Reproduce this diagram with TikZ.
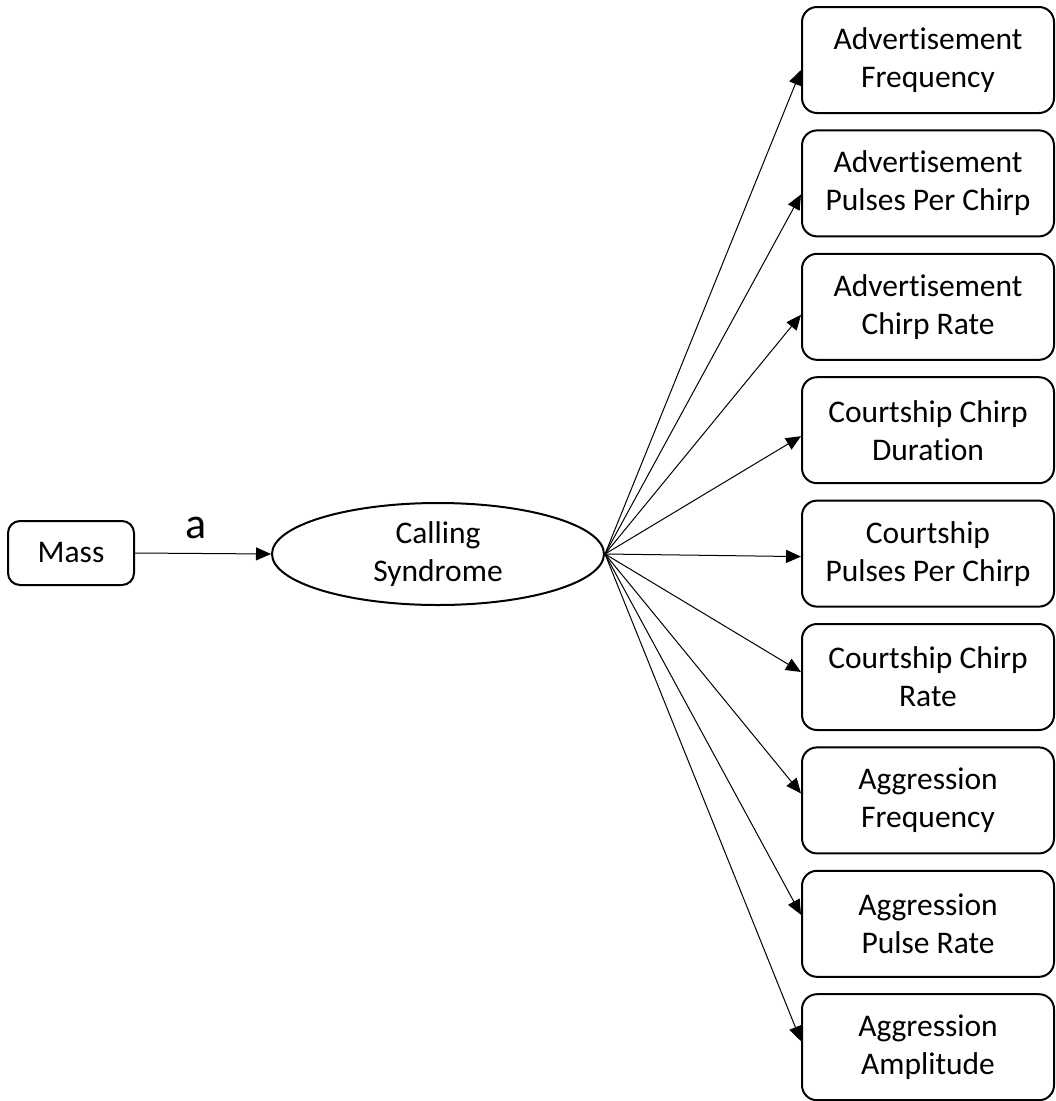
\documentclass[tikz,border=0pt]{standalone}
\usepackage{fontspec}
\setmainfont{Carlito}[Ligatures={NoCommon,NoRare,NoContextual}]
\usetikzlibrary{arrows.meta,shapes.geometric,calc}
\begin{document}
\begin{tikzpicture}[x=1pt,y=-1pt,
  boxnode/.style={draw, line width=2pt, rounded corners=15pt, minimum width=252pt, minimum height=106pt, inner sep=0pt, align=center, font=\fontsize{31.5}{38}\selectfont},
  massnode/.style={draw, line width=2pt, rounded corners=12pt, minimum width=126pt, minimum height=64pt, inner sep=0pt, font=\fontsize{31.5}{38}\selectfont},
  conn/.style={line width=1pt, -{Triangle[length=15pt,width=13pt]}}]
\useasboundingbox (0,0) rectangle (1056,1101);
\node[massnode] (mass) at (71,553) {Mass};
\node[draw, ellipse, line width=2pt, minimum width=332pt, minimum height=102pt, inner sep=0pt] (cs) at (438,554) {};
\node[align=center, font=\fontsize{31.5}{38}\selectfont] (cstext) at (438,554) {Calling\\Syndrome};
\node[font=\fontsize{44}{50}\selectfont, anchor=base] (alabel) at (196,538) {a};
\draw[conn] (mass.east) -- (cs.west);
\foreach \i/\txt/\off in {
  0/{Advertisement\\Frequency}/10,
  1/{Advertisement\\Pulses Per Chirp}/11,
  2/{Advertisement\\Chirp Rate}/8,
  3/{Courtship Chirp\\Duration}/6,
  4/{Courtship\\Pulses Per Chirp}/3,
  5/{Courtship Chirp\\Rate}/-5,
  6/{Aggression\\Frequency}/-7,
  7/{Aggression\\Pulse Rate}/-9,
  8/{Aggression\\Amplitude}/-6}{
  \node[boxnode] (b\i) at (928,60+123.4*\i) {\txt};
  \draw[conn] (cs.east) -- ($(b\i.west)+(0,\off)$);
}
\end{tikzpicture}
\end{document}
